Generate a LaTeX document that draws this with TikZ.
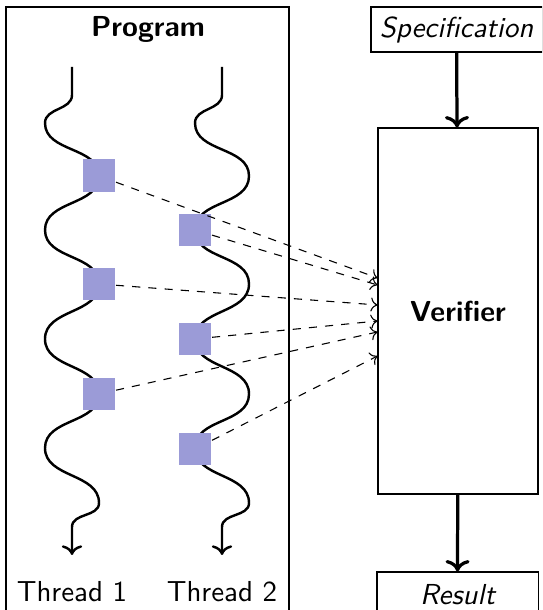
\documentclass[tikz,border=0pt]{standalone}
\usepackage{tikz}
\usetikzlibrary{arrows.meta,positioning,calc}
\definecolor{stepblue}{RGB}{155,155,215}

\begin{document}
\begin{tikzpicture}[x=0.37pt,y=0.37pt,font=\sffamily\fontsize{10.7}{13}\selectfont,
  box/.style={draw,thin,inner sep=0pt},
  thread/.style={line width=0.9pt,->},
  evt/.style={fill=stepblue,minimum size=12.2pt,inner sep=0pt},
  flow/.style={line width=1.2pt,->},
  obs/.style={dashed,thin,->}]
\clip (0,0) rectangle (542,610);
% program with its two threads
\draw[thin] (6,603) rectangle (289,-10);
\node[font=\sffamily\bfseries\fontsize{10.7}{13}\selectfont] (prog) at (148,581) {Program};
\foreach \c/\n in {72/1,222/2}{
  \draw[thread] (\c,543) -- (\c,515) to[out=-90,in=90] (\c-27,487)
    to[out=-90,in=90] (\c+27,434) to[out=-90,in=90] (\c-27,380)
    to[out=-90,in=90] (\c+27,326) to[out=-90,in=90] (\c-27,271)
    to[out=-90,in=90] (\c+27,216) to[out=-90,in=90] (\c-27,162)
    to[out=-90,in=90] (\c+27,107) to[out=-90,in=90] (\c,83) -- (\c,55);
  \node (t\n) at (\c,18) {Thread \n};
}
\node[evt] (e1) at (99,434) {};
\node[evt] (e2) at (99,326) {};
\node[evt] (e3) at (99,216) {};
\node[evt] (e4) at (195,380) {};
\node[evt] (e5) at (195,271) {};
\node[evt] (e6) at (195,161) {};
% verifier side
\node[box,minimum width=63.3pt,minimum height=16.65pt] (spec) at (456.5,580.5) {\itshape Specification};
\node[box,minimum width=59.2pt,minimum height=135.4pt] (ver) at (458,299) {\bfseries Verifier};
\node[box,minimum width=59.6pt,minimum height=16.65pt] (res) at (457.5,15.5) {\itshape Result};
\draw[flow] (spec) -- (ver);
\draw[flow] (ver) -- (res);
\draw[obs] (e1) -- ($(ver.west)+(0,33)$);
\draw[obs] (e4) -- ($(ver.west)+(0,26)$);
\draw[obs] (e2) -- ($(ver.west)+(0,6)$);
\draw[obs] (e5) -- ($(ver.west)+(0,-10)$);
\draw[obs] (e3) -- ($(ver.west)+(0,-21)$);
\draw[obs] (e6) -- ($(ver.west)+(0,-45)$);
\end{tikzpicture}
\end{document}
